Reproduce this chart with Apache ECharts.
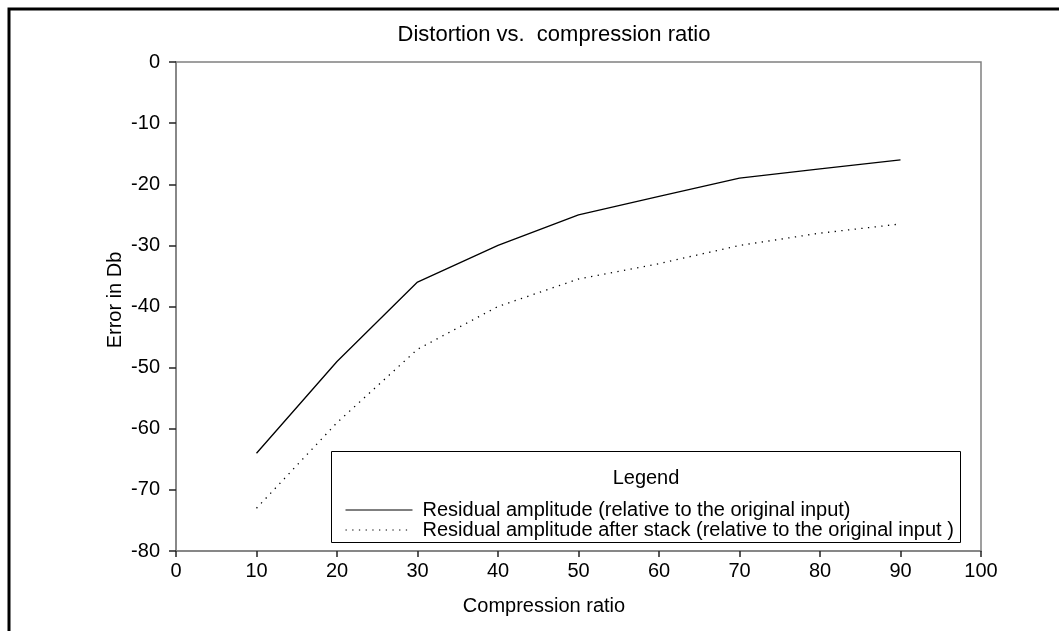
<!DOCTYPE html>
<html>
<head>
<meta charset="utf-8">
<script src="https://cdn.jsdelivr.net/npm/echarts@6/dist/echarts.min.js"></script>
<style>
  html, body { margin: 0; padding: 0; background: #fff; }
  #chart { width: 1059px; height: 631px; }
</style>
</head>
<body>
<div id="chart"></div>
<script>
// data
const ratios = [10, 20, 30, 40, 50, 60, 70, 80, 90];
const residual = [-64, -49, -36, -30, -25, -22, -19, -17.5, -16];
const residualStack = [-73, -59, -47, -40, -35.5, -33, -30, -28, -26.5];
const seriesNames = [
  'Residual amplitude (relative to the original input)',
  'Residual amplitude after stack (relative to the original input )'
];

const font = 'Arial, "Liberation Sans", sans-serif';
const chart = echarts.init(document.getElementById('chart'));

const toPairs = (ys) => ratios.map((x, i) => [x, ys[i]]);

const option = {
  animation: false,
  backgroundColor: '#fff',
  grid: {
    left: 176, top: 62, right: 78, bottom: 80,
    show: true, borderColor: '#808080', borderWidth: 1.5
  },
  xAxis: {
    type: 'value', min: 0, max: 100, interval: 10,
    axisLine: { onZero: false, lineStyle: { color: '#808080', width: 1.5 } },
    axisTick: { length: 6, lineStyle: { color: '#222', width: 1.5 } },
    axisLabel: { color: '#000', fontSize: 20, fontFamily: font, margin: 10 },
    splitLine: { show: false }
  },
  yAxis: {
    type: 'value', min: -80, max: 0, interval: 10,
    axisLine: { show: true, onZero: false, lineStyle: { color: '#808080', width: 1.5 } },
    axisTick: { show: true, length: 7, lineStyle: { color: '#222', width: 1.5 } },
    axisLabel: { color: '#000', fontSize: 20, fontFamily: font, margin: 16 },
    splitLine: { show: false }
  },
  legend: {
    orient: 'vertical',
    left: 340, top: 495,
    itemWidth: 67, itemHeight: 20, itemGap: 0,
    selectedMode: false,
    itemStyle: { opacity: 0 },
    lineStyle: { width: 1 },
    textStyle: { color: '#000', fontSize: 20, fontFamily: font, padding: [0, 0, 0, 5], lineHeight: 20 },
    data: seriesNames
  },
  graphic: [
    { type: 'rect', silent: true, shape: { x: 9, y: 9, width: 1200, height: 800 },
      style: { fill: 'none', stroke: '#000', lineWidth: 3 } },
    { type: 'rect', silent: true, shape: { x: 331.5, y: 451.5, width: 629, height: 91 },
      style: { fill: '#fff', stroke: '#000', lineWidth: 1 }, z: 0 },
    { type: 'text', silent: true, x: 646, y: 478,
      style: { text: 'Legend', font: '20px ' + font, fill: '#000', align: 'center', verticalAlign: 'middle' } },
    { type: 'text', silent: true, x: 554, y: 35,
      style: { text: 'Distortion vs.  compression ratio', font: '22px ' + font, fill: '#000', align: 'center', verticalAlign: 'middle' } },
    { type: 'text', silent: true, x: 544, y: 606,
      style: { text: 'Compression ratio', font: '20px ' + font, fill: '#000', align: 'center', verticalAlign: 'middle' } },
    { type: 'text', silent: true, x: 115, y: 300, rotation: Math.PI / 2,
      style: { text: 'Error in Db', font: '20px ' + font, fill: '#000', align: 'center', verticalAlign: 'middle' } }
  ],
  series: [
    {
      name: seriesNames[0], type: 'line', data: toPairs(residual),
      symbol: 'none', color: '#000',
      lineStyle: { color: '#000', width: 1.3 }
    },
    {
      name: seriesNames[1], type: 'line', data: toPairs(residualStack),
      symbol: 'none', color: '#000',
      lineStyle: { color: '#000', width: 1.3, type: [1.3, 5.4] }
    }
  ]
};

chart.setOption(option);
</script>
</body>
</html>
